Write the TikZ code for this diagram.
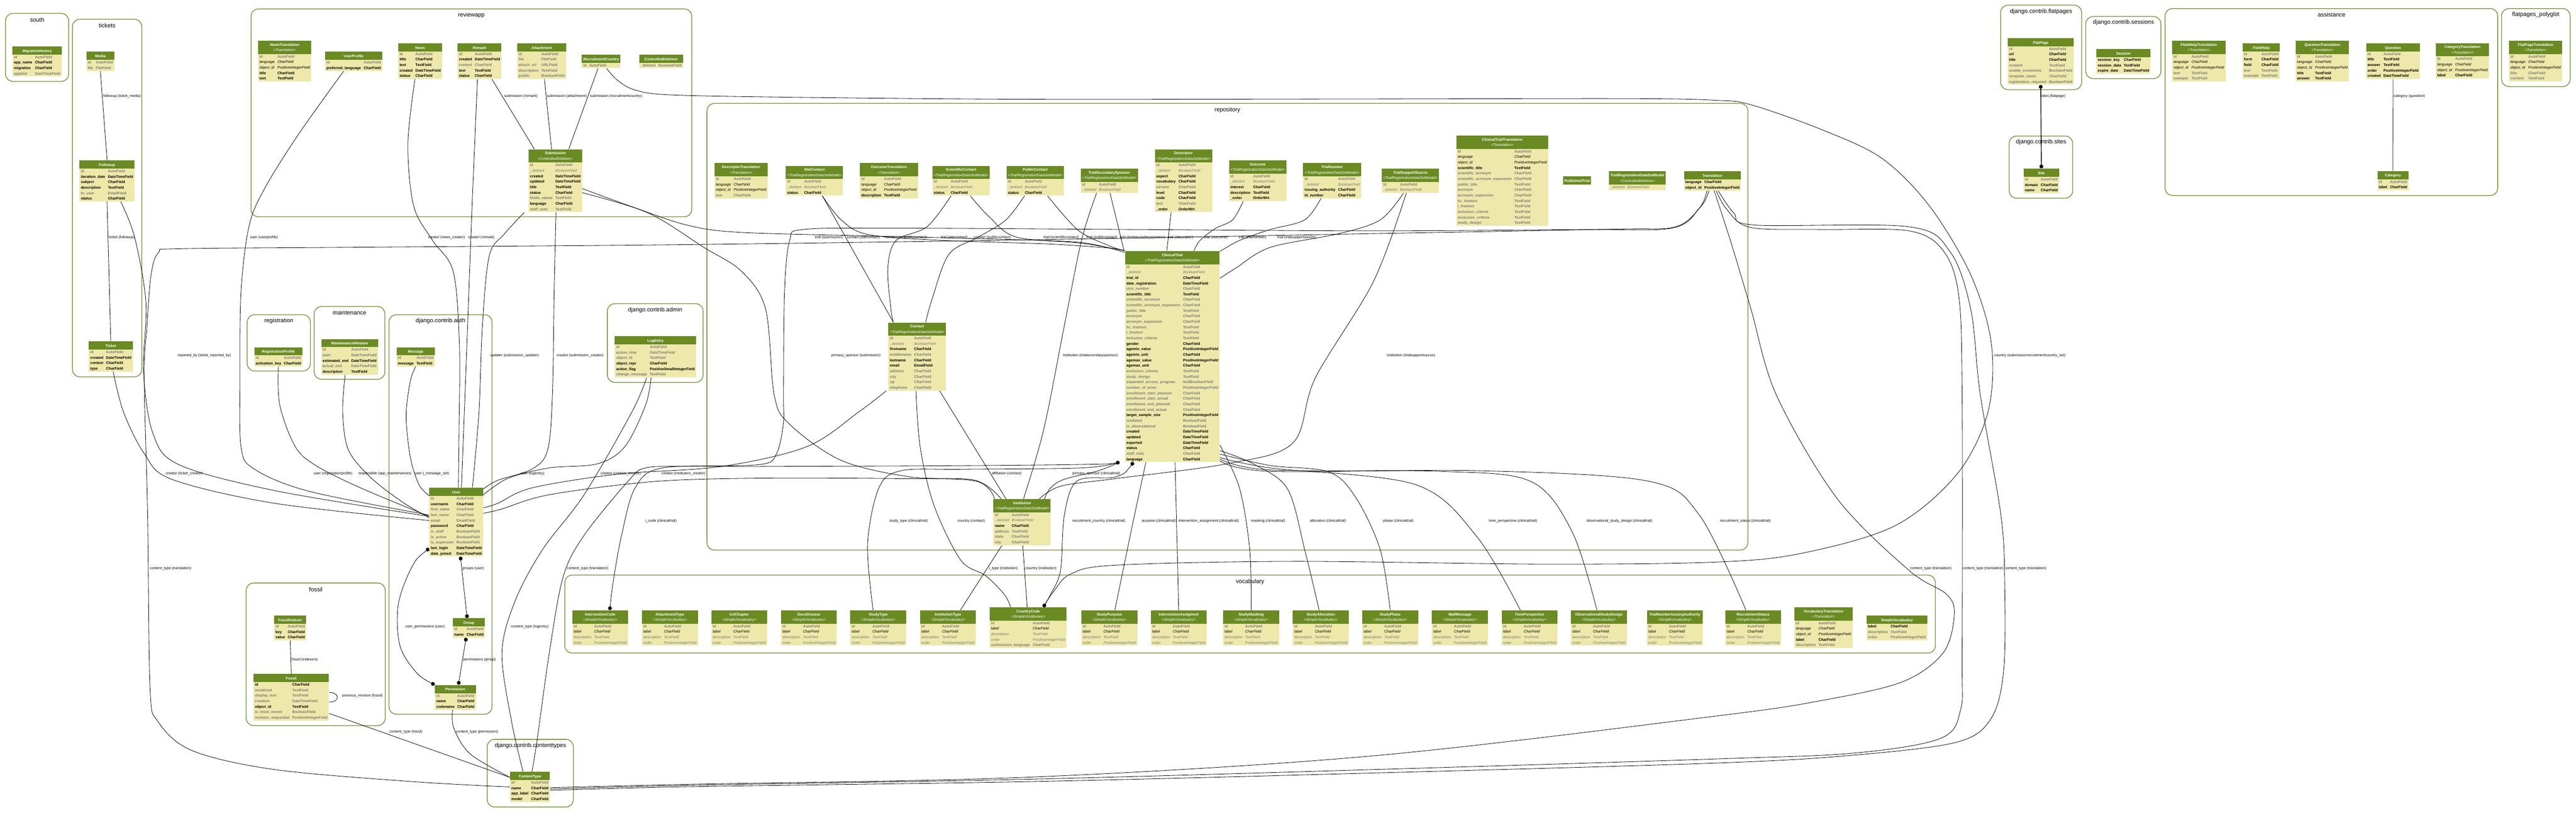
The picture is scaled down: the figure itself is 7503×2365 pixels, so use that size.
\PassOptionsToPackage{table}{xcolor}
\documentclass[tikz,border=0pt]{standalone}
\usepackage{fontspec}
\setmainfont{Liberation Sans}
\usepackage{colortbl}
\usetikzlibrary{arrows.meta}
\definecolor{hdr}{HTML}{698B22}
\definecolor{body}{HTML}{EEE8AA}
\definecolor{fg}{HTML}{7B7B7B}
\definecolor{clus}{HTML}{698B22}
\newcommand\tabfont{\fontsize{3.07pt}{4.55pt}\selectfont}
\newcommand\lblfont{\fontsize{3.04pt}{3.6pt}\selectfont}
\newcommand\clfont{\fontsize{4.84pt}{5.8pt}\selectfont}
\setlength\tabcolsep{0.4mm}
\renewcommand\arraystretch{1}
\newcommand\RB[2]{#1&#2\\}
\newcommand\RG[2]{\color{fg}#1&\color{fg}#2\\}
\newcommand\RI[2]{\mdseries\itshape #1&\mdseries\itshape #2\\}
\newcommand\RGI[2]{\color{fg}\mdseries\itshape #1&\color{fg}\mdseries\itshape #2\\}
\newcommand\TA[2]{\begin{tabular}{>{\bfseries}l>{\bfseries}l}\multicolumn{2}{c}{\cellcolor{hdr}\color{white}\bfseries\rule[-2pt]{0pt}{6.8pt}#1}\\#2\end{tabular}}
\newcommand\TB[3]{\begin{tabular}{>{\bfseries}l>{\bfseries}l}\multicolumn{2}{c}{\cellcolor{hdr}\color{white}\begin{tabular}{@{}c@{}}\rule{0pt}{4.3pt}\bfseries #1\\\rule[-2.1pt]{0pt}{2.1pt}\mdseries\itshape <#2>\end{tabular}}\\#3\end{tabular}}
\newcommand\SVrows{\RG{id}{AutoField}\RI{label}{CharField}\RGI{description}{TextField}\RGI{order}{PositiveIntegerField}}
\newcommand\SV[1]{\TB{#1}{SimpleVocabulary}{\SVrows}}
\newcommand\TRD{TrialRegistrationDataSetModel}
\newcommand\EL[4]{\node[elab] (#1) at (#2,#3) {#4};}
\pgfdeclarelayer{bg}
\pgfdeclarelayer{edges}
\pgfsetlayers{bg,edges,main}
\begin{document}
\begin{tikzpicture}[x=0.1mm,y=-0.1mm,
  tbl/.style={anchor=north west,inner sep=0pt,fill=body,font=\tabfont},
  cluster/.style={draw=clus,line width=0.55pt,rounded corners=2.2mm},
  ctitle/.style={font=\clfont,inner sep=0pt},
  elab/.style={font=\lblfont,anchor=west,inner sep=0pt},
  conn/.style={draw=black,line width=0.35pt},
  m2m/.style={{Circle[length=1.1mm]}-{Circle[length=1.1mm]}},
  sm/.style={smooth,tension=0.55}]
\useasboundingbox (0,0) rectangle (7503,2365);

% ---------------- clusters
\begin{pgfonlayer}{bg}
\draw[cluster] (16,39) rectangle (200,237);
\draw[cluster] (211,56) rectangle (413,1097);
\draw[cluster] (731,26) rectangle (2015,631);
\draw[cluster] (720,916) rectangle (904,1080);
\draw[cluster] (915,892) rectangle (1121,1104);
\draw[cluster] (1133,916) rectangle (1433,2079);
\draw[cluster] (1769,884) rectangle (2048,1113);
\draw[cluster] (717,1697) rectangle (1122,2112);
\draw[cluster] (1419,2152) rectangle (1670,2349);
\draw[cluster] (2059,301) rectangle (5091,1601);
\draw[cluster] (1645,1674) rectangle (5637,1901);
\draw[cluster] (5827,15) rectangle (6063,261);
\draw[cluster] (5852,396) rectangle (6037,577);
\draw[cluster] (6075,48) rectangle (6294,229);
\draw[cluster] (6306,25) rectangle (7275,569);
\draw[cluster] (7286,25) rectangle (7486,252);
\end{pgfonlayer}
\node[ctitle] (ct01) at (108,58) {south};
\node[ctitle] (ct02) at (312,74) {tickets};
\node[ctitle] (ct03) at (1373,44) {reviewapp};
\node[ctitle] (ct04) at (812,934) {registration};
\node[ctitle] (ct05) at (1018,910) {maintenance};
\node[ctitle] (ct06) at (1283,934) {django.contrib.auth};
\node[ctitle] (ct07) at (1908,902) {django.contrib.admin};
\node[ctitle] (ct08) at (920,1716) {fossil};
\node[ctitle] (ct09) at (1545,2171) {django.contrib.contenttypes};
\node[ctitle] (ct10) at (3575,320) {repository};
\node[ctitle] (ct11) at (3641,1693) {vocabulary};
\node[ctitle] (ct12) at (5945,34) {django.contrib.flatpages};
\node[ctitle] (ct13) at (5945,414) {django.contrib.sites};
\node[ctitle] (ct14) at (6185,66) {django.contrib.sessions};
\node[ctitle] (ct15) at (6791,43) {assistance};
\node[ctitle] (ct16) at (7386,43) {flatpages\_polyglot};

% ---------------- tables
\node[tbl] (MigrationHistory) at (36,134) {\TA{MigrationHistory}{\RG{id}{AutoField}\RB{app\_name}{CharField}\RB{migration}{CharField}\RG{applied}{DateTimeField}}};
\node[tbl] (Media) at (251,150) {\TA{Media}{\RG{id}{AutoField}\RG{file}{FileField}}};
\node[tbl] (Followup) at (231,466) {\TA{Followup}{\RG{id}{AutoField}\RB{iteration\_date}{DateTimeField}\RB{subject}{CharField}\RB{description}{TextField}\RG{to\_user}{EmailField}\RB{status}{CharField}}};
\node[tbl] (Ticket) at (258,993) {\TA{Ticket}{\RG{id}{AutoField}\RB{created}{DateTimeField}\RB{context}{CharField}\RB{type}{CharField}}};

\node[tbl] (NewsTranslation) at (751,118) {\TB{NewsTranslation}{Translation}{\RG{id}{AutoField}\RI{language}{CharField}\RI{object\_id}{PositiveIntegerField}\RB{title}{CharField}\RB{text}{TextField}}};
\node[tbl] (UserProfile) at (946,150) {\TA{UserProfile}{\RG{id}{AutoField}\RB{preferred\_language}{CharField}}};
\node[tbl] (News) at (1159,125) {\TA{News}{\RG{id}{AutoField}\RB{title}{CharField}\RB{text}{TextField}\RB{created}{DateTimeField}\RB{status}{CharField}}};
\node[tbl] (Remark) at (1332,125) {\TA{Remark}{\RG{id}{AutoField}\RB{created}{DateTimeField}\RG{context}{CharField}\RB{text}{TextField}\RB{status}{CharField}}};
\node[tbl] (Attachment) at (1506,125) {\TA{Attachment}{\RG{id}{AutoField}\RG{file}{FileField}\RG{attach\_url}{URLField}\RG{description}{TextField}\RG{public}{BooleanField}}};
\node[tbl] (RecruitmentCountry) at (1694,158) {\TA{RecruitmentCountry}{\RG{id}{AutoField}}};
\node[tbl] (ControlledDeletion) at (1861,158) {\TA{ControlledDeletion}{\RG{\_deleted}{BooleanField}}};
\node[tbl] (Submission) at (1539,434) {\TB{Submission}{ControlledDeletion}{\RG{id}{AutoField}\RGI{\_deleted}{BooleanField}\RB{created}{DateTimeField}\RB{updated}{DateTimeField}\RB{title}{TextField}\RB{status}{CharField}\RG{fields\_status}{TextField}\RB{language}{CharField}\RG{staff\_note}{TextField}}};

\node[tbl] (RegistrationProfile) at (740,1010) {\TA{RegistrationProfile}{\RG{id}{AutoField}\RB{activation\_key}{CharField}}};
\node[tbl] (MaintenanceWindow) at (935,986) {\TA{MaintenanceWindow}{\RG{id}{AutoField}\RG{start}{DateTimeField}\RB{estimated\_end}{DateTimeField}\RG{actual\_end}{DateTimeField}\RB{description}{TextField}}};
\node[tbl] (Message) at (1154,1010) {\TA{Message}{\RG{id}{AutoField}\RB{message}{TextField}}};
\node[tbl] (User) at (1250,1419) {\TA{User}{\RG{id}{AutoField}\RB{username}{CharField}\RG{first\_name}{CharField}\RG{last\_name}{CharField}\RG{email}{EmailField}\RB{password}{CharField}\RG{is\_staff}{BooleanField}\RG{is\_active}{BooleanField}\RG{is\_superuser}{BooleanField}\RB{last\_login}{DateTimeField}\RB{date\_joined}{DateTimeField}}};
\node[tbl] (Group) at (1318,1799) {\TA{Group}{\RG{id}{AutoField}\RB{name}{CharField}}};
\node[tbl] (Permission) at (1266,1993) {\TA{Permission}{\RG{id}{AutoField}\RB{name}{CharField}\RB{codename}{CharField}}};
\node[tbl] (LogEntry) at (1790,978) {\TA{LogEntry}{\RG{id}{AutoField}\RG{action\_time}{DateTimeField}\RG{object\_id}{TextField}\RB{object\_repr}{CharField}\RB{action\_flag}{PositiveSmallIntegerField}\RG{change\_message}{TextField}}};
\node[tbl] (FossilIndexer) at (798,1791) {\TA{FossilIndexer}{\RG{id}{AutoField}\RB{key}{CharField}\RB{value}{CharField}}};
\node[tbl] (Fossil) at (738,1961) {\TA{Fossil}{\RB{id}{CharField}\RG{serialized}{TextField}\RG{display\_text}{TextField}\RG{creation}{DateTimeField}\RB{object\_id}{TextField}\RG{is\_most\_recent}{BooleanField}\RG{revision\_sequential}{PositiveIntegerField}}};
\node[tbl] (ContentType) at (1485,2246) {\TA{ContentType}{\RG{id}{AutoField}\RB{name}{CharField}\RB{app\_label}{CharField}\RB{model}{CharField}}};

\node[tbl] (DescriptorTranslation) at (2080,474) {\TB{DescriptorTranslation}{Translation}{\RG{id}{AutoField}\RI{language}{CharField}\RI{object\_id}{PositiveIntegerField}\RG{text}{CharField}}};
\node[tbl] (SiteContact) at (2288,482) {\TB{SiteContact}{\TRD}{\RG{id}{AutoField}\RGI{\_deleted}{BooleanField}\RB{status}{CharField}}};
\node[tbl] (OutcomeTranslation) at (2504,474) {\TB{OutcomeTranslation}{Translation}{\RG{id}{AutoField}\RI{language}{CharField}\RI{object\_id}{PositiveIntegerField}\RB{description}{TextField}}};
\node[tbl] (ScientificContact) at (2715,482) {\TB{ScientificContact}{\TRD}{\RG{id}{AutoField}\RGI{\_deleted}{BooleanField}\RB{status}{CharField}}};
\node[tbl] (PublicContact) at (2931,482) {\TB{PublicContact}{\TRD}{\RG{id}{AutoField}\RGI{\_deleted}{BooleanField}\RB{status}{CharField}}};
\node[tbl] (TrialSecondarySponsor) at (3147,490) {\TB{TrialSecondarySponsor}{\TRD}{\RG{id}{AutoField}\RGI{\_deleted}{BooleanField}}};
\node[tbl] (Descriptor) at (3363,434) {\TB{Descriptor}{\TRD}{\RG{id}{AutoField}\RGI{\_deleted}{BooleanField}\RB{aspect}{CharField}\RB{vocabulary}{CharField}\RG{version}{CharField}\RB{level}{CharField}\RB{code}{CharField}\RG{text}{CharField}\RB{\_order}{OrderWrt}}};
\node[tbl] (Outcome) at (3579,466) {\TB{Outcome}{\TRD}{\RG{id}{AutoField}\RGI{\_deleted}{BooleanField}\RB{interest}{CharField}\RB{description}{TextField}\RB{\_order}{OrderWrt}}};
\node[tbl] (TrialNumber) at (3795,474) {\TB{TrialNumber}{\TRD}{\RG{id}{AutoField}\RGI{\_deleted}{BooleanField}\RB{issuing\_authority}{CharField}\RB{id\_number}{CharField}}};
\node[tbl] (TrialSupportSource) at (4024,490) {\TB{TrialSupportSource}{\TRD}{\RG{id}{AutoField}\RGI{\_deleted}{BooleanField}}};
\node[tbl] (ClinicalTrialTranslation) at (4241,394) {\TB{ClinicalTrialTranslation}{Translation}{\RG{id}{AutoField}\RI{language}{CharField}\RI{object\_id}{PositiveIntegerField}\RB{scientific\_title}{TextField}\RG{scientific\_acronym}{CharField}\RG{scientific\_acronym\_expansion}{CharField}\RG{public\_title}{TextField}\RG{acronym}{CharField}\RG{acronym\_expansion}{CharField}\RG{hc\_freetext}{TextField}\RG{i\_freetext}{TextField}\RG{inclusion\_criteria}{TextField}\RG{exclusion\_criteria}{TextField}\RG{study\_design}{TextField}}};
\node[tbl] (PublishedTrial) at (4552,513) {\TA{PublishedTrial}{}};
\node[tbl] (TRDSM) at (4686,498) {\TB{TrialRegistrationDataSetModel}{ControlledDeletion}{\RGI{\_deleted}{BooleanField}}};
\node[tbl] (Translation) at (4904,498) {\TA{Translation}{\RB{language}{CharField}\RB{object\_id}{PositiveIntegerField}}};
\node[tbl] (Contact) at (2587,938) {\TB{Contact}{\TRD}{\RG{id}{AutoField}\RGI{\_deleted}{BooleanField}\RB{firstname}{CharField}\RG{middlename}{CharField}\RB{lastname}{CharField}\RB{email}{EmailField}\RG{address}{CharField}\RG{city}{CharField}\RG{zip}{CharField}\RG{telephone}{CharField}}};
\node[tbl] (ClinicalTrial) at (3276,730) {\TB{ClinicalTrial}{\TRD}{\RG{id}{AutoField}\RGI{\_deleted}{BooleanField}\RB{trial\_id}{CharField}\RB{date\_registration}{DateTimeField}\RG{utrn\_number}{CharField}\RB{scientific\_title}{TextField}\RG{scientific\_acronym}{CharField}\RG{scientific\_acronym\_expansion}{CharField}\RG{public\_title}{TextField}\RG{acronym}{CharField}\RG{acronym\_expansion}{CharField}\RG{hc\_freetext}{TextField}\RG{i\_freetext}{TextField}\RG{inclusion\_criteria}{TextField}\RB{gender}{CharField}\RB{agemin\_value}{PositiveIntegerField}\RB{agemin\_unit}{CharField}\RB{agemax\_value}{PositiveIntegerField}\RB{agemax\_unit}{CharField}\RG{exclusion\_criteria}{TextField}\RG{study\_design}{TextField}\RG{expanded\_access\_program}{NullBooleanField}\RG{number\_of\_arms}{PositiveIntegerField}\RG{enrollment\_start\_planned}{CharField}\RG{enrollment\_start\_actual}{CharField}\RG{enrollment\_end\_planned}{CharField}\RG{enrollment\_end\_actual}{CharField}\RB{target\_sample\_size}{PositiveIntegerField}\RG{outdated}{BooleanField}\RG{is\_observational}{BooleanField}\RB{created}{DateTimeField}\RB{updated}{DateTimeField}\RB{exported}{DateTimeField}\RB{status}{CharField}\RG{staff\_note}{CharField}\RB{language}{CharField}}};
\node[tbl] (Institution) at (2893,1452) {\TB{Institution}{\TRD}{\RG{id}{AutoField}\RGI{\_deleted}{BooleanField}\RB{name}{CharField}\RG{address}{TextField}\RG{state}{CharField}\RG{city}{CharField}}};

\node[tbl] (InterventionCode) at (1666,1776) {\SV{InterventionCode}};
\node[tbl] (AttachmentType) at (1869,1776) {\SV{AttachmentType}};
\node[tbl] (IcdChapter) at (2071,1776) {\SV{IcdChapter}};
\node[tbl] (DecsDisease) at (2274,1776) {\SV{DecsDisease}};
\node[tbl] (StudyType) at (2476,1776) {\SV{StudyType}};
\node[tbl] (InstitutionType) at (2679,1776) {\SV{InstitutionType}};
\node[tbl] (CountryCode) at (2882,1767) {\TB{CountryCode}{SimpleVocabulary}{\SVrows\RG{submission\_language}{CharField}}};
\node[tbl] (StudyPurpose) at (3149,1776) {\SV{StudyPurpose}};
\node[tbl] (InterventionAssigment) at (3351,1776) {\SV{InterventionAssigment}};
\node[tbl] (StudyMasking) at (3562,1776) {\SV{StudyMasking}};
\node[tbl] (StudyAllocation) at (3765,1776) {\SV{StudyAllocation}};
\node[tbl] (StudyPhase) at (3967,1776) {\SV{StudyPhase}};
\node[tbl] (MailMessage) at (4170,1776) {\SV{MailMessage}};
\node[tbl] (TimePerspective) at (4373,1776) {\SV{TimePerspective}};
\node[tbl] (ObservationalStudyDesign) at (4575,1776) {\SV{ObservationalStudyDesign}};
\node[tbl] (TrialNumberIssuingAuthority) at (4796,1776) {\SV{TrialNumberIssuingAuthority}};
\node[tbl] (RecruitmentStatus) at (5024,1776) {\SV{RecruitmentStatus}};
\node[tbl] (VocabularyTranslation) at (5226,1767) {\TB{VocabularyTranslation}{Translation}{\RG{id}{AutoField}\RI{language}{CharField}\RI{object\_id}{PositiveIntegerField}\RB{label}{CharField}\RG{description}{TextField}}};
\node[tbl] (SimpleVocabulary) at (5436,1791) {\TA{SimpleVocabulary}{\RB{label}{CharField}\RG{description}{TextField}\RG{order}{PositiveIntegerField}}};

\node[tbl] (FlatPage) at (5847,110) {\TA{FlatPage}{\RG{id}{AutoField}\RB{url}{CharField}\RB{title}{CharField}\RG{content}{TextField}\RG{enable\_comments}{BooleanField}\RG{template\_name}{CharField}\RG{registration\_required}{BooleanField}}};
\node[tbl] (Site) at (5893,490) {\TA{Site}{\RG{id}{AutoField}\RB{domain}{CharField}\RB{name}{CharField}}};
\node[tbl] (Session) at (6105,142) {\TA{Session}{\RB{session\_key}{CharField}\RB{session\_data}{TextField}\RB{expire\_date}{DateTimeField}}};
\node[tbl] (FieldHelpTranslation) at (6326,118) {\TB{FieldHelpTranslation}{Translation}{\RG{id}{AutoField}\RI{language}{CharField}\RI{object\_id}{PositiveIntegerField}\RG{text}{TextField}\RG{example}{TextField}}};
\node[tbl] (FieldHelp) at (6531,125) {\TA{FieldHelp}{\RG{id}{AutoField}\RB{form}{CharField}\RB{field}{CharField}\RG{text}{TextField}\RG{example}{TextField}}};
\node[tbl] (QuestionTranslation) at (6686,118) {\TB{QuestionTranslation}{Translation}{\RG{id}{AutoField}\RI{language}{CharField}\RI{object\_id}{PositiveIntegerField}\RB{title}{TextField}\RB{answer}{TextField}}};
\node[tbl] (Question) at (6891,125) {\TA{Question}{\RG{id}{AutoField}\RB{title}{TextField}\RB{answer}{TextField}\RB{order}{PositiveIntegerField}\RB{created}{DateTimeField}}};
\node[tbl] (CategoryTranslation) at (7094,125) {\TB{CategoryTranslation}{Translation}{\RG{id}{AutoField}\RI{language}{CharField}\RI{object\_id}{PositiveIntegerField}\RB{label}{CharField}}};
\node[tbl] (Category) at (6924,497) {\TA{Category}{\RG{id}{AutoField}\RB{label}{CharField}}};
\node[tbl] (FlatPageTranslation) at (7307,118) {\TB{FlatPageTranslation}{Translation}{\RG{id}{AutoField}\RI{language}{CharField}\RI{object\_id}{PositiveIntegerField}\RG{title}{CharField}\RG{content}{TextField}}};

% ---------------- connectors
\begin{pgfonlayer}{edges}
% tickets
\draw[conn] (Media.south) -- (Followup.north);
\draw[conn] (Followup.south) -- (Ticket.north);
\draw[conn] plot[sm] coordinates {([xshift=4mm]Followup.south) (392,690) (425,880) (418,1080) (445,1260) (520,1352) (800,1428) ([yshift=-8.4mm]User.north west)};
\draw[conn] plot[sm] coordinates {([xshift=0.7mm]Ticket.south) (360,1200) (420,1320) (500,1395) (800,1465) ([yshift=-9.6mm]User.north west)};
% reviewapp
\draw[conn] plot[sm] coordinates {([xshift=-2.9mm]UserProfile.south) (870,390) (770,550) (725,660) (702,850) (699,1100) (702,1300) (740,1365) (900,1430) ([yshift=-8mm]User.north west)};
\draw[conn] plot[sm] coordinates {([xshift=-1.5mm]News.south) (1188,420) (1205,600) (1260,700) (1320,790) (1338,1000) (1337,1250) ([xshift=0.6mm]User.north)};
\draw[conn] plot[sm] coordinates {([xshift=-0.6mm]Remark.south) (1375,600) (1360,1000) ([xshift=1.5mm]User.north)};
\draw[conn] ([xshift=3.6mm]Remark.south) -- ([xshift=-6.1mm]Submission.north);
\draw[conn] ([xshift=0.8mm]Attachment.south) -- ([xshift=-1.1mm]Submission.north);
\draw[conn] ([xshift=-0.9mm]RecruitmentCountry.south) -- ([xshift=3.9mm]Submission.north);
\draw[conn] plot[sm] coordinates {([xshift=1.6mm]RecruitmentCountry.south) (1800,235) (1850,262) (1950,276) (2300,283) (3000,289) (4000,288) (4750,287) (5000,292) (5100,305) (5300,375) (5480,460) (5620,600) (5740,800) (5800,1000) (5790,1200) (5700,1380) (5520,1530) (5250,1610) (5000,1636) (4500,1642) (3765,1634) (3250,1645) (3120,1670) (3070,1720) ([xshift=4.4mm]CountryCode.north)};
\draw[conn] plot[sm] coordinates {([xshift=-9mm]Submission.south) (1470,680) (1425,745) (1405,950) (1395,1200) ([xshift=4.7mm]User.north)};
\draw[conn] plot[sm] coordinates {([xshift=0.2mm]Submission.south) (1614,850) (1609,1150) (1595,1310) (1550,1365) (1450,1398) ([yshift=-0.4mm]User.north east)};
\draw[conn] plot[sm] coordinates {([yshift=-2.3mm]Submission.east) (1850,605) (2000,655) (2150,676) (2500,686) (2900,696) (3150,706) ([yshift=-0.5mm]ClinicalTrial.north west)};
\draw[conn] plot[sm] coordinates {([yshift=-3.5mm]Submission.east) (1888,620) (2050,720) (2160,790) (2230,900) (2255,1150) (2300,1235) (2450,1340) (2650,1388) (2840,1398) ([xshift=-6.1mm]Institution.north)};
% registration, maintenance, auth, admin
\draw[conn] plot[sm] coordinates {(RegistrationProfile.south) (815,1180) (860,1300) (920,1355) (1050,1420) ([yshift=-8.4mm]User.north west)};
\draw[conn] plot[sm] coordinates {([xshift=-1.3mm]MaintenanceWindow.south) (998,1200) (1015,1310) (1080,1390) (1170,1460) ([yshift=-8.8mm]User.north west)};
\draw[conn] plot[sm] coordinates {(Message.south) (1195,1110) (1183,1210) (1195,1330) (1220,1410) ([yshift=-2.4mm]User.north west)};
\draw[conn] plot[sm] coordinates {([xshift=-1.3mm]LogEntry.south) (1880,1180) (1820,1300) (1740,1350) (1600,1362) (1480,1392) ([yshift=-2.1mm]User.north east)};
\draw[conn] plot[sm] coordinates {([xshift=-2.6mm]LogEntry.south) (1840,1200) (1702,1439) (1580,1600) (1500,1750) (1462,1900) (1490,2100) ([xshift=-2mm]ContentType.north)};
\draw[conn,m2m] ([xshift=1.2mm]User.south) -- ([xshift=-0.5mm]Group.north);
\draw[conn,m2m] plot[sm] coordinates {([yshift=2.4mm]User.south west) (1200,1650) (1160,1760) (1165,1880) (1215,1960) (Permission.north west)};
\draw[conn,m2m] ([xshift=-0.8mm]Group.south) -- ([xshift=0.9mm]Permission.north);
\draw[conn] plot[sm] coordinates {([xshift=-0.8mm]Permission.south) (1322,2120) (1370,2195) ([yshift=2.8mm]ContentType.west)};
% fossil
\draw[conn] (FossilIndexer.south) -- (Fossil.north);
\draw[conn] ([yshift=1.4mm]Fossil.east) .. controls +(3.2mm,0) and +(3.2mm,0) .. ([yshift=-1.4mm]Fossil.east);
\draw[conn] ([yshift=-4.7mm]Fossil.east) -- ([yshift=2.8mm]ContentType.west);
% translation -> contenttype
\draw[conn] plot[sm] coordinates {([xshift=-1mm]Translation.south) (4955,600) (4880,660) (4700,667) (4000,680) (3000,698) (2000,712) (1000,720) (520,724) (462,735) (440,800) (428,950) (420,1100) (430,1500) (437,2000) (460,2100) (560,2185) (800,2240) (1200,2275) (ContentType.west)};
\draw[conn] plot[sm] coordinates {([xshift=-1.6mm]Translation.south) (4950,605) (4870,664) (4600,668) (4000,672) (3300,668) (2600,664) (2340,668) (2300,700) (2285,850) (2282,1150) (2282,1230) (2262,1320) (2215,1352) (2000,1357) (1880,1362) (1830,1400) (1700,1560) (1640,1680) (1600,1900) (1565,2150) ([xshift=0.6mm]ContentType.north)};
\draw[conn] plot[sm] coordinates {([xshift=0.5mm]Translation.south) (5040,700) (5100,900) (5174,1150) (5350,1450) (5560,1660) (5670,1730) (5692,1790) (5660,1900) (5540,1985) (5300,2040) (5000,2084) (4000,2200) (3000,2262) (2000,2283) ([yshift=-0.2mm]ContentType.east)};
\draw[conn] plot[sm] coordinates {([xshift=1.1mm]Translation.south) (5030,610) (5098,662) (5300,668) (5560,672) (5660,730) (5705,860) (5715,1150) (5715,1900) (5710,2068) (5650,2150) (5400,2192) (5000,2209) (4000,2240) (3000,2268) (2000,2286) ([yshift=-0.6mm]ContentType.east)};
\draw[conn] plot[sm] coordinates {([xshift=1.7mm]Translation.south) (5050,620) (5110,655) (5560,660) (5680,733) (5740,900) (5768,1150) (5828,1500) (5839,1700) (5836,1950) (5800,2090) (5700,2160) (5400,2198) (5000,2221) (4000,2250) (3000,2275) (2000,2290) ([yshift=-1mm]ContentType.east)};
% repository
\draw[conn] ([xshift=2.3mm]SiteContact.south) -- ([xshift=-6.9mm]Contact.north);
\draw[conn] plot[sm] coordinates {([xshift=2.3mm]SiteContact.south) (2450,640) (2530,683) (2750,700) (3050,710) (3230,722) (ClinicalTrial.north west)};
\draw[conn] plot[sm] coordinates {([xshift=-2.9mm]ScientificContact.south) (2700,660) (2610,700) (2586,780) (2595,900) ([xshift=-6.9mm]Contact.north)};
\draw[conn] plot[sm] coordinates {([xshift=2.7mm]ScientificContact.south) (2880,630) (2960,690) (3150,708) (ClinicalTrial.north west)};
\draw[conn] plot[sm] coordinates {([xshift=-3.1mm]PublicContact.south) (2930,640) (2850,690) (2764,740) (2715,870) ([xshift=2.5mm]Contact.north)};
\draw[conn] plot[sm] coordinates {([xshift=3.6mm]PublicContact.south) (3140,670) (3230,715) (ClinicalTrial.north west)};
\draw[conn] plot[sm] coordinates {([xshift=-3.7mm]TrialSecondarySponsor.south) (3150,700) (3099,953) (3040,1250) ([xshift=0.4mm]Institution.north)};
\draw[conn] ([xshift=0.2mm]TrialSecondarySponsor.south) -- ([xshift=-0.2mm]ClinicalTrial.north west);
\draw[conn] ([xshift=-3.6mm]Descriptor.south) -- ([xshift=-1.6mm]ClinicalTrial.north);
\draw[conn] plot[sm] coordinates {([xshift=-4.2mm]Outcome.south) (3590,640) (3540,665) (3495,700) ([xshift=6.3mm]ClinicalTrial.north)};
\draw[conn] plot[sm] coordinates {([xshift=-3.3mm]TrialNumber.south) (3800,640) (3700,668) (3610,700) ([yshift=-0.2mm]ClinicalTrial.north east)};
\draw[conn] plot[sm] coordinates {([xshift=-2mm]TrialSupportSource.south) (4020,640) (3900,680) (3700,720) (3600,780) ([yshift=-8mm]ClinicalTrial.north east)};
\draw[conn] plot[sm] coordinates {([xshift=-1.2mm]TrialSupportSource.south) (4000,820) (3831,1100) (3765,1290) (3573,1350) (3250,1393) (3090,1415) ([xshift=5mm]Institution.north)};
\draw[conn] ([xshift=6.6mm]Contact.south) -- ([xshift=-4.7mm]Institution.north);
\draw[conn] plot[sm] coordinates {([xshift=-0.3mm]Contact.south) (2680,1300) (2720,1470) (2798,1630) (2870,1675) (2925,1730) ([xshift=-5.1mm]CountryCode.north)};
\draw[conn] plot[sm] coordinates {([xshift=-9mm]Contact.south) (2500,1200) (2350,1300) (2100,1358) (1800,1380) (1550,1420) (1450,1465) ([yshift=-5.9mm]User.north east)};
\draw[conn] plot[sm] coordinates {([xshift=-8mm]Institution.north) (2840,1400) (2600,1393) (2200,1392) (1900,1402) (1600,1440) (1460,1482) ([yshift=-7.5mm]User.north east)};
\draw[conn] ([xshift=-5.9mm]Institution.south) -- ([xshift=3.6mm]InstitutionType.north);
\draw[conn] ([xshift=0.2mm]Institution.south) -- ([xshift=-0.3mm]CountryCode.north);
\draw[conn] plot[sm] coordinates {([xshift=-1.5mm]ClinicalTrial.south west) (3200,1370) (3100,1395) (3060,1420) ([xshift=6.5mm]Institution.north)};
\draw[conn,m2m] plot[sm] coordinates {([xshift=-1.5mm]ClinicalTrial.south west) (3150,1352) (2700,1356) (2200,1358) (1930,1362) (1850,1420) (1810,1560) (1785,1700) ([xshift=2.8mm]InterventionCode.north)};
\draw[conn,m2m] plot[sm] coordinates {([xshift=-11.3mm]ClinicalTrial.south) (3250,1388) (3137,1400) (3100,1500) (3089,1660) (3060,1730) ([xshift=4.4mm]CountryCode.north)};
\draw[conn] plot[sm] coordinates {([xshift=-7.7mm]ClinicalTrial.south) (3300,1520) ([xshift=1.6mm]StudyPurpose.north)};
\draw[conn] ([xshift=0.8mm]ClinicalTrial.south) -- (InterventionAssigment.north);
\draw[conn] plot[sm] coordinates {([yshift=5mm]ClinicalTrial.south east) (3610,1420) (3640,1600) (StudyMasking.north)};
\draw[conn] plot[sm] coordinates {([xshift=-1.5mm]ClinicalTrial.south west) (3150,1362) (2800,1366) (2625,1370) (2560,1420) (2527,1584) ([xshift=-1.5mm]StudyType.north)};
\draw[conn] plot[sm] coordinates {([yshift=3.4mm]ClinicalTrial.south east) (3650,1350) (3750,1423) (3800,1600) ([xshift=-0.5mm]StudyAllocation.north)};
\draw[conn] plot[sm] coordinates {([yshift=2.4mm]ClinicalTrial.south east) (3700,1355) (3871,1374) (3950,1450) (4020,1600) (StudyPhase.north)};
\draw[conn] plot[sm] coordinates {([yshift=1.4mm]ClinicalTrial.south east) (3700,1362) (4121,1410) (4300,1560) ([xshift=-2.7mm]TimePerspective.north)};
\draw[conn] plot[sm] coordinates {([yshift=0.9mm]ClinicalTrial.south east) (3700,1368) (4200,1372) (4460,1402) (4580,1550) ([xshift=-0.6mm]ObservationalStudyDesign.north)};
\draw[conn] plot[sm] coordinates {([yshift=0.4mm]ClinicalTrial.south east) (3700,1372) (4300,1370) (4798,1400) (4950,1500) ([xshift=-2.1mm]RecruitmentStatus.north)};
% right side apps
\draw[conn,m2m,line width=0.6pt] (FlatPage.south) -- (Site.north);
\draw[conn] (Question.south) -- (Category.north);
\end{pgfonlayer}

% ---------------- connector labels
\EL{l01}{300}{280}{followup (ticket\_media)}
\EL{l02}{317}{691}{ticket (followup)}
\EL{l03}{517}{1035}{reported\_by (ticket\_reported\_by)}
\EL{l04}{482}{1379}{creator (ticket\_creator)}
\EL{l05}{728}{691}{user (userprofile)}
\EL{l06}{1246}{692}{creator (news\_creator)}
\EL{l07}{1363}{692}{creator (remark)}
\EL{l08}{1468}{280}{submission (remark)}
\EL{l09}{1592}{280}{submission (attachment)}
\EL{l10}{1718}{280}{submission (recruitmentcountry)}
\EL{l11}{1427}{1035}{updater (submission\_updater)}
\EL{l12}{1621}{1035}{creator (submission\_creator)}
\EL{l13}{913}{1379}{user (registrationprofile)}
\EL{l14}{1043}{1379}{responsible (app\_maintenances)}
\EL{l15}{1207}{1379}{user (\_message\_set)}
\EL{l16}{1516}{1379}{user (logentry)}
\EL{l17}{1749}{1379}{creator (contact\_creator)}
\EL{l18}{1926}{1379}{creator (institution\_creator)}
\EL{l19}{436}{1654}{content\_type (translation)}
\EL{l20}{1651}{1654}{content\_type (translation)}
\EL{l21}{1346}{1654}{groups (user)}
\EL{l22}{1879}{1516}{i\_code (clinicaltrial)}
\EL{l23}{1180}{1824}{user\_permissions (user)}
\EL{l24}{1488}{1824}{content\_type (logentry)}
\EL{l25}{850}{1920}{fossil (indexers)}
\EL{l26}{1349}{1920}{permissions (group)}
\EL{l27}{996}{2026}{previous\_revision (fossil)}
\EL{l28}{1134}{2131}{content\_type (fossil)}
\EL{l29}{1327}{2131}{content\_type (permission)}
\EL{l30}{2373}{692}{trial (submission)}
\EL{l31}{2466}{692}{contact (sitecontact)}
\EL{l32}{2579}{692}{contact (scientificcontact)}
\EL{l33}{2739}{692}{trial (sitecontact)}
\EL{l34}{2836}{692}{contact (publiccontact)}
\EL{l35}{3039}{692}{trial (scientificcontact)}
\EL{l36}{3164}{692}{trial (publiccontact)}
\EL{l37}{3261}{692}{trial (trialsecondarysponsor)}
\EL{l38}{3400}{692}{trial (descriptor)}
\EL{l39}{3507}{692}{trial (outcome)}
\EL{l40}{3607}{692}{trial (trialnumber)}
\EL{l41}{3720}{692}{trial (trialsupportsource)}
\EL{l42}{2421}{1035}{primary\_sponsor (submission)}
\EL{l43}{3095}{1035}{institution (trialsecondarysponsor)}
\EL{l44}{4039}{1035}{institution (trialsupportsource)}
\EL{l45}{5808}{1035}{country (submissionrecruitmentcountry\_set)}
\EL{l46}{2888}{1379}{affiliation (contact)}
\EL{l47}{3123}{1379}{primary\_sponsor (clinicaltrial)}
\EL{l48}{2590}{1516}{study\_type (clinicaltrial)}
\EL{l49}{2788}{1516}{country (contact)}
\EL{l50}{3123}{1516}{recruitment\_country (clinicaltrial)}
\EL{l51}{3325}{1516}{purpose (clinicaltrial)}
\EL{l52}{3432}{1516}{intervention\_assignment (clinicaltrial)}
\EL{l53}{3643}{1516}{masking (clinicaltrial)}
\EL{l54}{3815}{1516}{allocation (clinicaltrial)}
\EL{l55}{4028}{1516}{phase (clinicaltrial)}
\EL{l56}{4336}{1516}{time\_perspective (clinicaltrial)}
\EL{l57}{4620}{1516}{observational\_study\_design (clinicaltrial)}
\EL{l58}{5009}{1516}{recruitment\_status (clinicaltrial)}
\EL{l59}{2880}{1654}{i\_type (institution)}
\EL{l60}{2986}{1654}{country (institution)}
\EL{l61}{5563}{1654}{content\_type (translation)}
\EL{l62}{5715}{1654}{content\_type (translation)}
\EL{l63}{5839}{1654}{content\_type (translation)}
\EL{l64}{5945}{280}{sites (flatpage)}
\EL{l65}{6971}{280}{category (question)}
\end{tikzpicture}
\end{document}
